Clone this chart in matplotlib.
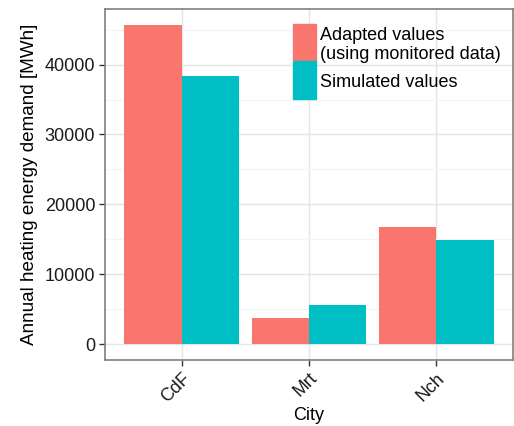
import numpy as np
import matplotlib.pyplot as plt
from matplotlib.patches import Rectangle

plt.rcParams['font.family'] = ['Liberation Sans', 'DejaVu Sans']

cities = ['CdF', 'Mrt', 'Nch']
adapted = [45600, 3800, 16700]
simulated = [38400, 5600, 14900]
series_names = ['Adapted values\n(using monitored data)', 'Simulated values']
colors = ['#F8766D', '#00BFC4']

fig = plt.figure(figsize=(5.14, 4.26), dpi=100)
ax = fig.add_axes([0.2043, 0.1549, 0.7937, 0.8228])

x = np.arange(len(cities))
w = 0.45
ax.bar(x - w / 2, adapted, width=w, color=colors[0], zorder=3)
ax.bar(x + w / 2, simulated, width=w, color=colors[1], zorder=3)

ax.set_xlim(-0.6, 2.6)
top = max(adapted + simulated)
ax.set_ylim(-0.05 * top, 1.05 * top)

ax.set_yticks([0, 10000, 20000, 30000, 40000])
ax.set_yticks([5000, 15000, 25000, 35000, 45000], minor=True)
ax.set_xticks(x)
ax.set_xticklabels(cities, rotation=45, ha='right', va='top',
                   rotation_mode='anchor')
ax.tick_params(axis='both', which='major', labelsize=13, length=4,
               width=1, color='#333333', labelcolor='#1a1a1a', pad=3)
ax.tick_params(axis='y', which='minor', length=0)
ax.grid(True, which='major', color='#e5e5e5', lw=1, zorder=0)
ax.grid(True, which='minor', axis='y', color='#f5f5f5', lw=1, zorder=0)
for s in ax.spines.values():
    s.set_color('#7f7f7f')
    s.set_linewidth(1.2)

ax.set_ylabel('Annual heating energy demand [MWh]', fontsize=13.6, labelpad=5)
ax.set_xlabel('City', fontsize=13, labelpad=1)

# legend drawn inside the panel, keys stacked without gap
kx, kw = 0.461, 0.057
ax.add_patch(Rectangle((kx, 0.854), kw, 0.1046, transform=ax.transAxes,
                       color=colors[0], zorder=4))
ax.add_patch(Rectangle((kx, 0.7455), kw, 0.1085, transform=ax.transAxes,
                       color=colors[1], zorder=4))
ax.text(kx + kw + 0.008, 0.899, series_names[0], transform=ax.transAxes,
        fontsize=13, va='center', ha='left', linespacing=1.1, zorder=5)
ax.text(kx + kw + 0.008, 0.791, series_names[1], transform=ax.transAxes,
        fontsize=13, va='center', ha='left', zorder=5)

fig.savefig('out.png', dpi=100)
